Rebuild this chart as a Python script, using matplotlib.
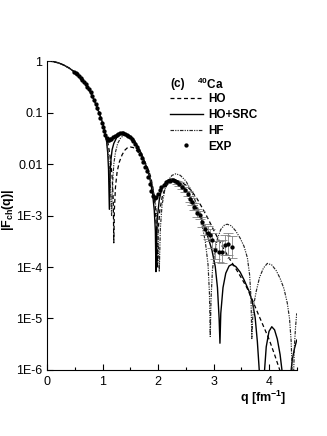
import numpy as np
import matplotlib
matplotlib.use("Agg")
import matplotlib.pyplot as plt
from matplotlib.ticker import FixedLocator, MultipleLocator, NullLocator

plt.rcParams["font.family"] = ["Liberation Sans", "DejaVu Sans"]
plt.rcParams["mathtext.fontset"] = "custom"
plt.rcParams["mathtext.rm"] = "Liberation Sans"
plt.rcParams["mathtext.bf"] = "Liberation Sans:bold"

# values, as log10 |F_ch(q)|
q_src = [0, .1, .2, .3, .4, .5, .6, .65, .7, .75, .8, .85, .9, .95, 1.0, 1.04, 1.07, 1.09, 1.105,
         1.12, 1.135, 1.15, 1.17, 1.2, 1.25, 1.3, 1.35, 1.4, 1.5, 1.6, 1.7, 1.8, 1.85, 1.9, 1.93,
         1.95, 1.96, 1.97, 1.99, 2.02, 2.06, 2.1, 2.15, 2.2, 2.25, 2.3, 2.4, 2.5, 2.6, 2.7, 2.8,
         2.9, 2.97, 3.03, 3.07, 3.1, 3.115, 3.13, 3.17, 3.22, 3.28, 3.33, 3.4, 3.48, 3.55, 3.64,
         3.7, 3.75, 3.79, 3.83, 3.86, 3.87, 3.9, 3.95, 4.0, 4.05, 4.1, 4.15, 4.2, 4.25, 4.29, 4.33,
         4.36, 4.39, 4.42, 4.46, 4.5]
log_src = [0, -.009, -.035, -.08, -.14, -.22, -.33, -.39, -.46, -.55, -.65, -.77, -.9, -1.05, -1.21,
           -1.38, -1.56, -1.78, -2.1, -2.88, -2.15, -1.9, -1.72, -1.6, -1.49, -1.43, -1.41, -1.42,
           -1.48, -1.6, -1.8, -2.08, -2.28, -2.58, -2.9, -3.3, -4.09, -3.4, -3.0, -2.7, -2.5, -2.41,
           -2.34, -2.3, -2.29, -2.3, -2.37, -2.5, -2.68, -2.88, -3.12, -3.42, -3.67, -3.99, -4.4,
           -5.0, -5.48, -4.9, -4.4, -4.12, -3.98, -3.95, -3.99, -4.1, -4.25, -4.47, -4.68, -4.98,
           -5.45, -6.1, -7.0, -7.5, -6.3, -5.55, -5.25, -5.16, -5.22, -5.4, -5.7, -6.15, -6.8, -7.5,
           -6.7, -6.1, -5.8, -5.58, -5.42]

q_ho = [0, .1, .2, .3, .4, .5, .6, .65, .7, .75, .8, .85, .9, .95, 1.0, 1.05, 1.1, 1.14, 1.17, 1.19,
        1.2, 1.21, 1.23, 1.26, 1.3, 1.35, 1.4, 1.45, 1.5, 1.55, 1.6, 1.7, 1.8, 1.87, 1.92, 1.95, 1.97,
        1.985, 2.0, 2.03, 2.08, 2.15, 2.22, 2.3, 2.4, 2.5, 2.6, 2.7, 2.8, 2.9, 3.0, 3.1, 3.2, 3.3,
        3.4, 3.5, 3.6, 3.7, 3.8, 3.9, 4.0, 4.1, 4.2, 4.25]
log_ho = [0, -.009, -.035, -.08, -.14, -.22, -.33, -.39, -.46, -.55, -.65, -.77, -.9, -1.05, -1.2,
          -1.4, -1.62, -1.9, -2.25, -2.7, -3.53, -2.9, -2.45, -2.15, -1.96, -1.82, -1.73, -1.68,
          -1.67, -1.68, -1.72, -1.84, -2.04, -2.26, -2.55, -2.85, -3.3, -4.0, -3.3, -2.9, -2.6,
          -2.42, -2.35, -2.32, -2.34, -2.41, -2.52, -2.67, -2.86, -3.06, -3.28, -3.49, -3.68,
          -3.86, -4.03, -4.21, -4.4, -4.64, -4.9, -5.15, -5.4, -5.7, -6.02, -6.2]

q_hf = [0, .1, .2, .3, .4, .5, .6, .65, .7, .75, .8, .85, .9, .95, 1.0, 1.04, 1.08, 1.11, 1.135,
        1.16, 1.18, 1.2, 1.23, 1.27, 1.32, 1.37, 1.42, 1.47, 1.52, 1.6, 1.68, 1.76, 1.84, 1.9,
        1.95, 1.99, 2.02, 2.04, 2.07, 2.12, 2.18, 2.25, 2.32, 2.4, 2.5, 2.6, 2.7, 2.78, 2.85, 2.9,
        2.925, 2.94, 2.955, 2.98, 3.02, 3.07, 3.13, 3.2, 3.25, 3.32, 3.4, 3.48, 3.55, 3.61, 3.65,
        3.675, 3.69, 3.705, 3.73, 3.77, 3.83, 3.9, 3.97, 4.05, 4.13, 4.2, 4.27, 4.33, 4.37, 4.4,
        4.42, 4.43, 4.44, 4.46, 4.48, 4.5]
log_hf = [0, -.009, -.035, -.08, -.14, -.22, -.33, -.39, -.46, -.55, -.65, -.77, -.9, -1.05, -1.21,
          -1.38, -1.62, -1.9, -2.3, -3.0, -2.35, -2.0, -1.77, -1.6, -1.5, -1.45, -1.43, -1.44,
          -1.47, -1.58, -1.78, -1.98, -2.22, -2.45, -2.75, -3.2, -4.09, -3.25, -2.8, -2.5, -2.32,
          -2.22, -2.19, -2.22, -2.33, -2.52, -2.8, -3.12, -3.5, -3.95, -4.5, -5.35, -4.6, -4.05,
          -3.7, -3.45, -3.27, -3.18, -3.17, -3.2, -3.3, -3.44, -3.6, -3.82, -4.15, -4.6, -5.39,
          -5.0, -4.7, -4.47, -4.2, -4.02, -3.93, -3.96, -4.07, -4.22, -4.42, -4.7, -5.0, -5.45,
          -6.1, -7.0, -6.2, -5.5, -5.15, -4.9]

q_exp = [.48, .51, .54, .57, .60, .63, .66, .69, .72, .75, .78, .81, .84, .87, .90, .93, .96, .99,
         1.01, 1.03, 1.05, 1.07, 1.09, 1.11, 1.13, 1.15, 1.19, 1.22, 1.25, 1.28, 1.31, 1.34, 1.37,
         1.40, 1.43, 1.46, 1.49, 1.52, 1.55, 1.58, 1.61, 1.64, 1.67, 1.70, 1.73, 1.76, 1.79, 1.82,
         1.85, 1.88, 1.91, 1.94, 1.97, 2.00, 2.03, 2.06, 2.10, 2.14, 2.18, 2.22, 2.26, 2.30, 2.34,
         2.38, 2.43, 2.48, 2.53, 2.58, 2.61, 2.64, 2.70, 2.75, 2.80, 2.85, 2.90, 2.94, 2.98, 3.03,
         3.09, 3.15, 3.21, 3.26, 3.34]
log_exp = [-.205, -.23, -.26, -.295, -.33, -.37, -.41, -.45, -.50, -.55, -.61, -.68, -.75, -.83,
           -.91, -1.0, -1.10, -1.2, -1.28, -1.36, -1.44, -1.5, -1.53, -1.53, -1.52, -1.51, -1.48,
           -1.45, -1.43, -1.41, -1.40, -1.40, -1.40, -1.41, -1.43, -1.45, -1.48, -1.52, -1.56,
           -1.61, -1.66, -1.73, -1.80, -1.88, -1.96, -2.05, -2.14, -2.25, -2.38, -2.52, -2.62,
           -2.66, -2.64, -2.58, -2.50, -2.45, -2.40, -2.35, -2.33, -2.32, -2.31, -2.32, -2.35,
           -2.39, -2.45, -2.50, -2.58, -2.68, -2.73, -2.83, -2.95, -2.99, -3.12, -3.27, -3.33,
           -3.38, -3.48, -3.67, -3.70, -3.70, -3.57, -3.55, -3.61]
# error bar half length in decades (0 = no bar)
dlog_exp = [0] * 62 + [.03, .04, .04, .05, .05, .06, .07, .07, .08, .08, .1, .1, .12, .12, .15,
                       .18, .2, .22, .2, .22, .22]

ytick_vals = [1, 0.1, 0.01, 1e-3, 1e-4, 1e-5, 1e-6]
ytick_labels = ["1", "0.1", "0.01", "1E-3", "1E-4", "1E-5", "1E-6"]

fig = plt.figure(figsize=(3.27, 4.36), dpi=100)
ax = fig.add_axes([0.1446, 0.1514, 0.7628, 0.7086])

f_src = 10.0 ** np.array(log_src)
f_ho = 10.0 ** np.array(log_ho)
f_hf = 10.0 ** np.array(log_hf)
f_exp = 10.0 ** np.array(log_exp)
d = np.array(dlog_exp)
err_lo = f_exp - f_exp * 10.0 ** (-d)
err_hi = f_exp * 10.0 ** d - f_exp

ax.plot(q_ho, f_ho, color="black", lw=0.9, ls=(0, (3.2, 2.2)), label="HO")
ax.plot(q_src, f_src, color="black", lw=1.0, ls="-", label="HO+SRC")
ax.plot(q_hf, f_hf, color="0.15", lw=0.85, ls=(0, (3, 1, 1, 1, 1, 1)), label="HF")
has_err = d > 0
ax.errorbar(np.array(q_exp)[has_err], f_exp[has_err],
            yerr=[err_lo[has_err], err_hi[has_err]], fmt="none",
            ecolor="0.5", elinewidth=0.6, capsize=3.5, capthick=0.6, zorder=3)
ax.plot(q_exp, f_exp, "o", color="black", ms=3.1, mew=0, label="EXP", zorder=4)

ax.set_yscale("log")
ax.set_xlim(0, 4.5)
ax.set_ylim(1e-6, 1)
ax.yaxis.set_major_locator(FixedLocator(ytick_vals))
ax.set_yticklabels(ytick_labels)
ax.yaxis.set_minor_locator(NullLocator())
ax.xaxis.set_major_locator(FixedLocator([0, 1, 2, 3, 4]))
ax.xaxis.set_minor_locator(MultipleLocator(0.5))
ax.tick_params(which="both", direction="in", labelsize=9, width=0.8)
ax.tick_params(which="major", length=4)
ax.tick_params(which="minor", length=2.5)
ax.tick_params(axis="x", pad=4)
ax.spines["top"].set_visible(False)
ax.spines["right"].set_visible(False)

ax.set_ylabel(r"|F$_{\mathbf{ch}}$(q)|", fontsize=9, fontweight="bold")
ax.yaxis.set_label_coords(-0.125, 0.52)
ax.text(0.96, -0.09, r"q [fm$^{\mathbf{-1}}$]", transform=ax.transAxes, ha="right",
        va="center", fontsize=9, fontweight="bold")

ax.text(0.492, 0.926, "(c)", transform=ax.transAxes, ha="left", va="center",
        fontsize=8.5, fontweight="bold")
ax.text(0.60, 0.926, r"$\mathbf{^{40}}$Ca", transform=ax.transAxes, ha="left", va="center",
        fontsize=8.5, fontweight="bold")

leg = ax.legend(loc="upper left", bbox_to_anchor=(0.49, 0.897), frameon=False,
                borderpad=0, borderaxespad=0, handlelength=2.8, handletextpad=0.45,
                labelspacing=0.33, prop={"weight": "bold", "size": 8.5})

fig.savefig("out.png", dpi=100)
